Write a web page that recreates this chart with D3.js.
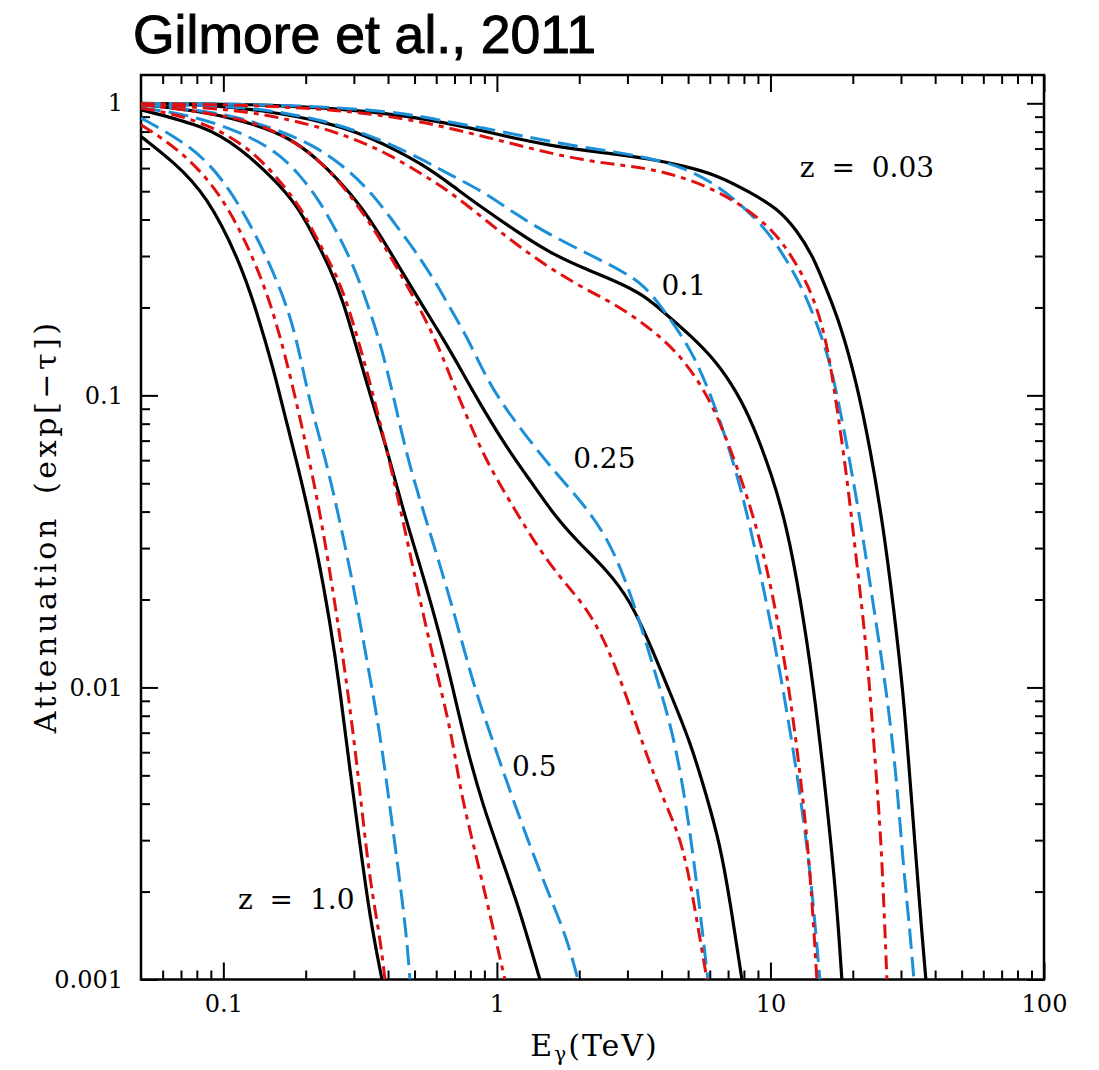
<!DOCTYPE html>
<html>
<head>
<meta charset="utf-8">
<script src="https://cdn.jsdelivr.net/npm/d3@7"></script>
<style>
body { margin: 0; background: #fff; }
</style>
</head>
<body>
<div id="canvas"></div>
<script>
// 每條曲線: [E (TeV), exp(-tau)]
let z003Black = [[0.05,0.999],[0.115,0.996],[0.2669,0.961],[0.4678,0.906],[0.6737,0.851],[0.8915,0.805],[1.181,0.756],[1.562,0.718],[2.068,0.690],[2.740,0.669],[3.626,0.645],[4.798,0.611],[6.357,0.569],[8.410,0.496],[10.53,0.439],[12.46,0.369],[14.33,0.299],[16.04,0.230],[17.94,0.177],[20.64,0.111],[23.09,0.0666],[25.83,0.0357],[28.09,0.0193],[30.56,0.00973],[32.33,0.0049],[34.21,0.00247],[35.68,0.00148],[37.0,0.001]]
let z003Blue = [[0.05,0.999],[0.115,0.996],[0.2669,0.969],[0.4678,0.924],[0.6737,0.861],[0.8915,0.824],[1.181,0.780],[1.562,0.741],[2.068,0.707],[2.740,0.680],[3.626,0.649],[4.798,0.604],[6.357,0.526],[7.951,0.443],[9.681,0.369],[11.46,0.291],[13.17,0.230],[14.75,0.177],[16.49,0.132],[18.45,0.0793],[21.23,0.0384],[23.74,0.0193],[26.58,0.00973],[28.91,0.0049],[30.56,0.00247],[32.33,0.00148],[33.44,0.001]]
let z003Red = [[0.05,0.996],[0.115,0.99],[0.2669,0.950],[0.4678,0.885],[0.6737,0.822],[0.8915,0.770],[1.181,0.721],[1.562,0.675],[2.068,0.640],[2.740,0.616],[3.626,0.597],[4.798,0.558],[6.357,0.502],[7.951,0.443],[9.681,0.384],[11.13,0.332],[12.81,0.269],[14.33,0.218],[16.04,0.155],[17.45,0.0928],[18.98,0.0538],[20.64,0.0271],[22.46,0.01366],[23.74,0.00688],[25.12,0.00346],[25.83,0.00207],[26.65,0.001]]

let z01Black = [[0.05,0.997],[0.0869,0.992],[0.1523,0.935],[0.2319,0.864],[0.3072,0.7985],[0.4064,0.7096],[0.5379,0.616],[0.6737,0.530],[0.8527,0.449],[1.181,0.364],[1.562,0.3076],[2.068,0.2727],[2.740,0.2453],[3.427,0.2209],[4.055,0.1936],[5.077,0.1611],[6.357,0.1305],[7.520,0.1030],[8.646,0.0793],[10.12,0.0534],[11.46,0.0357],[12.81,0.02064],[14.33,0.01039],[16.04,0.00412],[17.45,0.00187],[18.24,0.001]]
let z01Blue = [[0.05,0.997],[0.115,0.977],[0.1752,0.921],[0.2319,0.871],[0.3072,0.805],[0.4064,0.727],[0.5379,0.640],[0.6737,0.569],[0.8915,0.499],[1.181,0.415],[1.562,0.3545],[2.188,0.3029],[2.896,0.2655],[3.427,0.239],[3.944,0.2041],[4.539,0.170],[5.220,0.1376],[5.843,0.1086],[6.535,0.0824],[7.733,0.0503],[9.151,0.02534],[10.83,0.01151],[12.46,0.00523],[13.94,0.00247],[15.16,0.001]]
let z01Red = [[0.05,0.996],[0.115,0.950],[0.1752,0.878],[0.2319,0.822],[0.3072,0.750],[0.4064,0.6663],[0.5379,0.569],[0.6737,0.4975],[0.8915,0.4044],[1.181,0.3277],[1.562,0.2727],[2.068,0.2329],[2.740,0.2041],[3.626,0.170],[4.539,0.1413],[5.430,0.1130],[6.357,0.0871],[7.951,0.0503],[9.681,0.0271],[11.46,0.01151],[12.81,0.00523],[13.94,0.00247],[14.78,0.001]]

let z025Black = [[0.05,0.99],[0.0869,0.937],[0.1324,0.844],[0.1752,0.760],[0.2193,0.649],[0.2669,0.540],[0.3157,0.449],[0.3737,0.3545],[0.4420,0.2727],[0.5233,0.2096],[0.6458,0.1528],[0.7451,0.1207],[0.8433,0.098],[1.0854,0.0661],[1.358,0.0494],[1.653,0.0379],[2.012,0.031],[2.518,0.02527],[3.064,0.01994],[3.626,0.0141],[4.290,0.0096],[5.077,0.00657],[5.843,0.00425],[6.535,0.00291],[7.109,0.00187],[7.864,0.001]]
let z025Blue = [[0.05,0.99],[0.0999,0.93],[0.1523,0.822],[0.2132,0.721],[0.2824,0.600],[0.3532,0.486],[0.4180,0.3937],[0.4945,0.3192],[0.5854,0.252],[0.6737,0.1994],[0.7772,0.1586],[0.8915,0.1207],[1.026,0.0958],[1.284,0.0721],[1.653,0.0538],[2.068,0.0426],[2.518,0.03277],[2.896,0.02447],[3.333,0.01677],[3.836,0.01078],[4.411,0.00699],[4.937,0.00389],[5.372,0.002166],[5.908,0.001]]
let z025Red = [[0.05,0.99],[0.115,0.901],[0.1656,0.780],[0.2132,0.6663],[0.2669,0.5385],[0.3341,0.4054],[0.3954,0.315],[0.4678,0.239],[0.5379,0.1887],[0.6193,0.1432],[0.6737,0.1166],[0.7327,0.0965],[0.8915,0.0622],[1.0854,0.04527],[1.358,0.03183],[1.700,0.02375],[2.128,0.0188],[2.518,0.01405],[2.980,0.00935],[3.526,0.00585],[4.172,0.00389],[4.798,0.00291],[5.372,0.001618],[5.857,0.001]]

let z05Black = [[0.05,0.950],[0.0869,0.833],[0.115,0.702],[0.1523,0.5545],[0.1853,0.449],[0.2132,0.3545],[0.2454,0.2727],[0.2745,0.2096],[0.3072,0.1451],[0.3485,0.0965],[0.3954,0.0661],[0.4546,0.0402],[0.5233,0.02627],[0.6193,0.01513],[0.6925,0.0098],[0.7752,0.00621],[0.8915,0.0039],[1.0549,0.002506],[1.214,0.001716],[1.436,0.001]]
let z05Blue = [[0.05,0.965],[0.0755,0.913],[0.115,0.8005],[0.1567,0.6838],[0.1905,0.569],[0.2255,0.461],[0.2597,0.3639],[0.2985,0.2798],[0.3341,0.2096],[0.3737,0.1528],[0.4180,0.1004],[0.4678,0.0622],[0.5379,0.0402],[0.6193,0.02627],[0.7126,0.01677],[0.8194,0.01028],[0.9432,0.00699],[1.0854,0.004766],[1.284,0.003076],[1.520,0.002042],[1.798,0.001398],[1.978,0.001]]
let z05Red = [[0.05,0.963],[0.0694,0.913],[0.0999,0.8005],[0.1324,0.6663],[0.1656,0.5258],[0.196,0.426],[0.2255,0.3277],[0.2597,0.2587],[0.2904,0.1936],[0.3246,0.1341],[0.3532,0.1004],[0.4064,0.0587],[0.4546,0.0369],[0.5089,0.02244],[0.5854,0.01252],[0.6833,0.00699],[0.7327,0.00449],[0.8194,0.00291],[0.9173,0.00187],[1.070,0.001]]

let z10Black = [[0.05,0.770],[0.0656,0.632],[0.0869,0.486],[0.115,0.287],[0.1324,0.1936],[0.1523,0.124],[0.1704,0.0803],[0.1905,0.0538],[0.2193,0.0300],[0.2454,0.01677],[0.2669,0.00988],[0.290,0.00522],[0.3157,0.00291],[0.3436,0.00162],[0.380,0.001]]
let z10Blue = [[0.05,0.890],[0.0755,0.721],[0.0999,0.5545],[0.1324,0.3545],[0.1656,0.2209],[0.1853,0.157],[0.2056,0.0965],[0.2385,0.0587],[0.2669,0.0369],[0.2985,0.02244],[0.3341,0.01252],[0.3737,0.00699],[0.4064,0.00389],[0.4420,0.002166],[0.4678,0.001398],[0.4810,0.001]]
let z10Red = [[0.05,0.844],[0.0694,0.693],[0.0946,0.5125],[0.1217,0.336],[0.1523,0.1989],[0.1827,0.1004],[0.2073,0.0587],[0.2288,0.0369],[0.2522,0.0211],[0.2745,0.01252],[0.2985,0.00697],[0.3203,0.00389],[0.3436,0.002166],[0.3737,0.001398],[0.3898,0.001]]

let xTicks = [0.1, 1, 10, 100]
let yTicks = [0.001, 0.01, 0.1, 1]

// 曲線上的標註 (E, exp(-tau))
let labels = [
    {text: 'z = 0.03', e: 12.8, a: 0.56},
    {text: '0.1', e: 4.0, a: 0.221},
    {text: '0.25', e: 1.9, a: 0.0562},
    {text: '0.5', e: 1.135, a: 0.00498},
    {text: 'z = 1.0', e: 0.1131, a: 0.001743}
]

let width = 1099, height = 1070
let plotLeft = 141, plotRight = 1044, plotTop = 75, plotBottom = 979.5
let serif = 'DejaVu Serif, Liberation Serif, serif'

let svg = d3.select('#canvas').append('svg')
    .attr('width', width)
    .attr('height', height)
    .style('display', 'block')

let xScale = d3.scaleLog()
    .domain([0.05, 100])
    .range([plotLeft, plotRight])
let yScale = d3.scaleLog()
    .domain([0.001, 1.25])
    .range([plotBottom, plotTop])

let isMajor = d => Math.abs(Math.log10(d) - Math.round(Math.log10(d))) < 1e-6
let xMinor = xScale.ticks().filter(d => !isMajor(d) && d > 0.0501 && d < 99.9)
let yMinor = yScale.ticks().filter(d => !isMajor(d))

// 標題
svg.append('text')
    .attr('x', 133)
    .attr('y', 53)
    .style('font-family', 'Liberation Sans, Arial, sans-serif')
    .style('font-size', '53.5px')
    .style('fill', '#000')
    .style('stroke', '#000')
    .style('stroke-width', '1px')
    .text('Gilmore et al., 2011')

// 座標軸: 刻度朝內
function drawAxis(axis, tx, ty, labelsOn) {
    let g = svg.append('g')
        .attr('transform', `translate(${tx}, ${ty})`)
        .call(axis)
    g.select('.domain').remove()
    g.selectAll('line').style('stroke', '#000').style('stroke-width', 2)
    if (labelsOn) {
        g.selectAll('text')
            .style('font-family', serif)
            .style('font-size', '24px')
            .style('fill', '#000')
    } else {
        g.selectAll('text').remove()
    }
    return g
}

let fmt = d => d3.format('~g')(d)

drawAxis(d3.axisBottom(xScale).tickValues(xTicks).tickSize(-17).tickPadding(15).tickFormat(fmt), 0, plotBottom, true)
drawAxis(d3.axisBottom(xScale).tickValues(xMinor).tickSize(-9).tickFormat(''), 0, plotBottom, false)
drawAxis(d3.axisTop(xScale).tickValues(xTicks).tickSize(-17).tickFormat(''), 0, plotTop, false)
drawAxis(d3.axisTop(xScale).tickValues(xMinor).tickSize(-9).tickFormat(''), 0, plotTop, false)

drawAxis(d3.axisLeft(yScale).tickValues(yTicks).tickSize(-17).tickPadding(18).tickFormat(fmt), plotLeft, 0, true)
drawAxis(d3.axisLeft(yScale).tickValues(yMinor).tickSize(-9).tickFormat(''), plotLeft, 0, false)
drawAxis(d3.axisRight(yScale).tickValues(yTicks).tickSize(-17).tickFormat(''), plotRight, 0, false)
drawAxis(d3.axisRight(yScale).tickValues(yMinor).tickSize(-9).tickFormat(''), plotRight, 0, false)

// 外框
svg.append('rect')
    .attr('x', plotLeft)
    .attr('y', plotTop)
    .attr('width', plotRight - plotLeft)
    .attr('height', plotBottom - plotTop)
    .style('fill', 'none')
    .style('stroke', '#000')
    .style('stroke-width', 2.5)

svg.append('clipPath').attr('id', 'plotClip')
    .append('rect')
    .attr('x', plotLeft).attr('y', plotTop)
    .attr('width', plotRight - plotLeft).attr('height', plotBottom - plotTop)

// 用 basis 讓讀圖誤差平滑一點
let line = d3.line()
    .x(d => xScale(d[0]))
    .y(d => yScale(d[1]))
    .curve(d3.curveBasis)

let styles = {
    black: {color: '#000000', dash: null, width: 3.2},
    blue: {color: '#1b8fd8', dash: '20,8', width: 3},
    red: {color: '#e01010', dash: '14,6,5,6', width: 3}
}

let curves = [
    [z003Black, 'black'], [z01Black, 'black'], [z025Black, 'black'], [z05Black, 'black'], [z10Black, 'black'],
    [z003Blue, 'blue'], [z01Blue, 'blue'], [z025Blue, 'blue'], [z05Blue, 'blue'], [z10Blue, 'blue'],
    [z003Red, 'red'], [z01Red, 'red'], [z025Red, 'red'], [z05Red, 'red'], [z10Red, 'red']
]

let plot = svg.append('g').attr('clip-path', 'url(#plotClip)')

plot.selectAll('path')
    .data(curves)
    .enter()
    .append('path')
    .attr('d', d => line(d[0]))
    .style('fill', 'none')
    .style('stroke', d => styles[d[1]].color)
    .style('stroke-width', d => styles[d[1]].width)
    .style('stroke-dasharray', d => styles[d[1]].dash)
    .style('stroke-linejoin', 'round')

// 曲線標註
svg.selectAll('.zlabel')
    .data(labels)
    .enter()
    .append('text')
    .attr('class', 'zlabel')
    .attr('x', d => xScale(d.e))
    .attr('y', d => yScale(d.a))
    .style('font-family', serif)
    .style('font-size', '28px')
    .style('word-spacing', '8px')
    .style('fill', '#000')
    .text(d => d.text)

// x 軸標題
let xTitle = svg.append('text')
    .attr('x', (plotLeft + plotRight) / 2 + 2)
    .attr('y', 1056)
    .attr('text-anchor', 'middle')
    .style('font-family', serif)
    .style('font-size', '30px')
    .style('letter-spacing', '2px')
    .style('fill', '#000')
xTitle.append('tspan').text('E')
xTitle.append('tspan').attr('dy', 5).style('font-size', '20px').text('γ')
xTitle.append('tspan').attr('dy', -5).text('(TeV)')

// y 軸標題
svg.append('text')
    .attr('transform', `translate(56, ${(plotTop + plotBottom) / 2 - 1}) rotate(-90)`)
    .attr('text-anchor', 'middle')
    .style('font-family', serif)
    .style('font-size', '30px')
    .style('letter-spacing', '3.6px')
    .style('word-spacing', '8px')
    .style('fill', '#000')
    .text('Attenuation (exp[−τ])')
</script>
</body>
</html>
